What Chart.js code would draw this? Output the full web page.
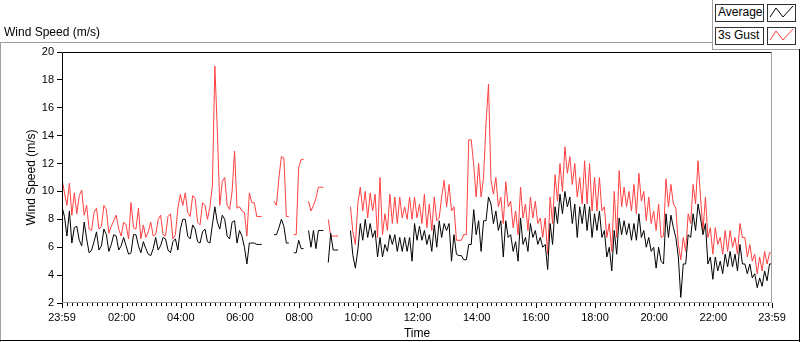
<!DOCTYPE html>
<html>
<head>
<meta charset="utf-8">
<script src="https://cdn.jsdelivr.net/npm/chart.js@4.4.0/dist/chart.umd.min.js"></script>
<style>
  html, body { margin: 0; padding: 0; background: #fff; }
  body { width: 800px; height: 342px; position: relative; overflow: hidden;
         font-family: "Liberation Sans", Arial, sans-serif; font-size: 12px; color: #000; }
  #wrap { position: absolute; left: 0; top: 0; width: 800px; height: 342px; }
  .abs { position: absolute; }
  #title { left: 4px; top: 25px; white-space: nowrap; }
  .line { position: absolute; }
  .lbox { position: absolute; box-sizing: border-box; border: 1px solid #303030; background: #fff;
          height: 18px; line-height: 15px; padding-left: 2px; white-space: nowrap; }
  .sbox { position: absolute; box-sizing: border-box; border: 1px solid #303030; background: #fff;
          width: 29px; height: 18px; }
  .sbox svg { position: absolute; left: 0; top: 0; }
</style>
</head>
<body>
<div id="wrap"><canvas id="myChart" width="800" height="342"></canvas></div>

<div id="title" class="abs">Wind Speed (m/s)</div>
<!-- panel frame -->
<div class="line" style="left:0;top:42px;width:712px;height:1px;background:#a0a0a0"></div>
<div class="line" style="left:0;top:42px;width:1px;height:300px;background:#a0a0a0"></div>
<div class="line" style="left:712px;top:0;width:1px;height:50px;background:#a0a0a0"></div>
<div class="line" style="left:712px;top:49px;width:88px;height:1px;background:#a0a0a0"></div>
<div class="line" style="left:799px;top:49px;width:1px;height:293px;background:#000"></div>
<div class="line" style="left:0;top:340px;width:800px;height:1px;background:#000"></div>
<div id="legend"></div>

<script>
// time axis is in minutes after 23:59 of the previous day, one value every 5 min
const stepMinutes = 5;
const tickMinutes = [0, 121, 241, 361, 481, 601, 721, 841, 961, 1081, 1201, 1321, 1440];
const tickLabels = ['23:59', '02:00', '04:00', '06:00', '08:00', '10:00', '12:00',
                    '14:00', '16:00', '18:00', '20:00', '22:00', '23:59'];
const seriesNames = ['Average', '3s Gust'];
const seriesColors = ['#000000', '#ff4040'];

// 3s gust (m/s), 12 values per hour
const gust = [
  10.9, 9.9, 9.0, 10.6, 8.3, 9.9, 8.4, 9.7, 10.1, 8.3, 9.0, 7.3,
  7.2, 8.5, 8.8, 7.3, 7.5, 9.0, 8.7, 7.0, 7.5, 7.9, 8.3, 7.3,
  6.8, 7.8, 7.6, 6.6, 9.2, 7.4, 7.3, 8.8, 6.6, 7.6, 6.7, 7.1,
  7.8, 6.8, 6.9, 8.0, 8.3, 6.9, 6.8, 8.2, 8.4, 6.6, 6.9, 8.8,
  9.8, 9.0, 9.9, 8.5, 8.2, 9.7, 9.5, 7.8, 7.6, 9.2, 9.0, 8.0,
  8.9, 10.4, 19.0, 14.4, 9.0, 10.7, 11.0, 9.0, 8.7, 10.0, 12.9, 8.8,
  8.9, 8.6, 8.5, 6.8, 9.9, 9.2, 9.2, 8.2, 8.2, 8.2, null, null,
  null, null, 9.3, 9.0, 11.0, 12.5, 12.4, 8.2, 8.2, null, 6.9, 6.9,
  11.7, 12.3, 12.3, null, 9.3, 8.6, 9.0, 9.5, 10.3, 10.3, 10.3, null,
  8.0, 6.8, 6.8, 6.8, 6.8, null, null, null, null, 8.9, 7.1, 6.2,
  9.1, 10.3, 8.6, 10.0, 8.1, 9.9, 8.6, 9.8, 6.7, 11.0, 6.9, 8.4,
  7.2, 9.8, 7.7, 9.6, 7.7, 9.6, 8.1, 8.9, 8.0, 9.6, 8.0, 9.6,
  8.1, 9.1, 7.7, 9.8, 7.4, 9.1, 7.2, 9.6, 7.9, 8.1, 9.6, 10.8,
  8.9, 10.5, 8.6, 8.9, 6.5, 6.5, 6.5, 6.9, 6.9, 13.7, 13.7, 11.9,
  9.6, 12.0, 9.6, 11.0, 14.9, 17.7, 10.8, 9.8, 11.0, 8.9, 9.6, 7.7,
  10.7, 8.9, 9.3, 7.4, 8.6, 6.9, 10.3, 8.1, 9.1, 7.2, 9.6, 8.1,
  9.3, 7.7, 8.1, 6.7, 8.1, 5.5, 9.6, 7.7, 11.2, 9.3, 12.0, 10.0,
  13.2, 11.3, 12.5, 10.5, 12.0, 9.6, 11.0, 9.1, 12.2, 9.1, 12.0, 8.6,
  11.0, 8.6, 11.0, 8.6, 8.9, 6.7, 7.7, 5.7, 10.0, 6.7, 11.5, 8.9,
  10.3, 8.9, 10.0, 8.6, 10.5, 8.4, 11.3, 9.3, 10.0, 7.9, 9.6, 7.7,
  8.6, 7.2, 9.1, 6.7, 6.8, 10.9, 8.9, 10.5, 9.1, 8.8, 6.2, 5.1,
  6.7, 5.7, 8.4, 7.7, 10.5, 9.1, 12.2, 9.6, 7.2, 9.6, 6.7, 7.4,
  5.5, 7.4, 6.2, 6.7, 5.5, 7.2, 5.7, 7.2, 6.0, 6.7, 5.5, 7.7,
  6.7, 6.7, 5.3, 6.2, 5.0, 5.5, 4.1, 5.3, 4.3, 5.7, 4.8, 5.6,
  5.6
];

// average wind speed (m/s)
const average = [
  8.9, 8.2, 6.8, 8.6, 6.3, 7.4, 7.5, 6.5, 6.1, 7.8, 6.6, 5.6,
  5.8, 6.4, 7.1, 5.8, 6.1, 7.3, 6.9, 5.7, 6.2, 6.9, 6.8, 5.8,
  6.1, 6.7, 6.1, 5.5, 5.6, 6.9, 6.9, 6.1, 5.6, 6.4, 5.9, 5.5,
  5.4, 5.9, 6.7, 5.8, 6.1, 6.7, 6.6, 5.8, 5.6, 6.4, 6.6, 5.8,
  7.3, 8.0, 8.0, 6.8, 6.6, 7.6, 7.3, 6.4, 6.3, 7.1, 7.3, 6.4,
  6.3, 7.6, 8.9, 7.8, 7.3, 8.3, 8.0, 6.8, 6.6, 7.8, 7.9, 6.3,
  7.2, 6.8, 6.0, 4.8, 6.3, 6.3, 6.3, 6.2, 6.2, 6.2, null, null,
  null, null, 6.9, 6.9, 7.4, 8.0, 7.5, 6.3, 6.3, null, 5.6, 5.6,
  6.5, 5.9, 5.9, null, 7.2, 6.0, 7.2, 5.9, 7.2, 7.2, 7.2, null,
  4.9, 7.0, 5.8, 5.8, 5.8, null, null, null, null, 7.2, 5.4, 4.5,
  5.8, 7.7, 6.5, 8.0, 6.7, 7.7, 6.7, 7.2, 5.3, 6.7, 5.3, 6.2,
  5.7, 6.9, 6.2, 6.9, 5.7, 6.7, 5.7, 6.7, 5.7, 6.7, 5.0, 7.7,
  6.5, 7.5, 6.5, 7.2, 6.2, 6.9, 5.7, 7.6, 6.0, 7.9, 6.7, 7.7,
  7.2, 7.7, 5.0, 6.9, 5.5, 5.4, 5.4, 5.1, 5.1, 6.2, 6.2, 8.7,
  6.9, 7.9, 5.7, 7.9, 7.9, 9.6, 9.1, 7.7, 8.6, 7.2, 7.9, 5.3,
  7.9, 6.7, 6.9, 5.7, 6.4, 5.0, 8.1, 6.2, 6.7, 5.7, 7.7, 6.7,
  7.2, 6.2, 6.7, 6.0, 6.2, 4.4, 7.7, 6.2, 8.9, 7.7, 9.8, 8.4,
  10.0, 8.9, 9.6, 7.7, 9.1, 6.7, 8.9, 7.7, 9.1, 7.2, 8.9, 6.7,
  8.4, 7.2, 8.6, 6.7, 7.2, 5.3, 6.0, 4.3, 7.2, 5.5, 8.1, 6.9,
  7.9, 6.9, 7.7, 6.5, 7.7, 6.5, 8.4, 6.7, 7.2, 6.0, 6.7, 5.7,
  6.0, 4.5, 6.0, 5.0, 4.8, 8.4, 6.7, 8.3, 7.4, 6.7, 5.3, 2.4,
  4.8, 4.8, 6.9, 6.7, 8.4, 7.2, 9.1, 8.1, 6.9, 7.7, 4.8, 5.3,
  3.7, 5.3, 4.3, 5.0, 4.1, 5.5, 4.6, 5.7, 4.6, 5.5, 4.3, 6.2,
  4.8, 4.8, 4.1, 4.8, 3.8, 4.1, 3.1, 3.8, 3.2, 4.3, 3.6, 4.8,
  4.8
];

function toPoints(arr) {
  return arr.map((v, i) => ({ x: i * stepMinutes, y: v }));
}

const labelFont = { family: 'Liberation Sans', size: 11 };
const titleFont = { family: 'Liberation Sans', size: 12 };

// tick marks on the time axis and the plot frame
const framePlugin = {
  id: 'framePlugin',
  afterDraw(chart) {
    const { ctx, chartArea: a, scales: { x } } = chart;
    ctx.save();
    ctx.lineWidth = 1;
    ctx.strokeStyle = '#000';
    ctx.beginPath();
    for (let m = 1; m < 1440; m += 10) {
      const px = Math.round(x.getPixelForValue(m)) + 0.5;
      ctx.moveTo(px, a.bottom);
      ctx.lineTo(px, a.bottom + 3);
    }
    tickMinutes.forEach((m) => {
      const px = Math.round(x.getPixelForValue(m)) + 0.5;
      ctx.moveTo(px, a.bottom);
      ctx.lineTo(px, a.bottom + 5);
    });
    ctx.stroke();

    const l = Math.round(a.left) + 0.5, r = Math.round(a.right) - 0.5;
    const t = Math.round(a.top) + 0.5, b = Math.round(a.bottom) - 0.5;
    ctx.beginPath();
    ctx.strokeStyle = '#000';
    ctx.moveTo(l, b); ctx.lineTo(l, t); ctx.lineTo(r, t);
    ctx.stroke();
    ctx.beginPath();
    ctx.strokeStyle = '#a0a0a0';
    ctx.moveTo(r, t); ctx.lineTo(r, b); ctx.lineTo(l, b);
    ctx.stroke();
    ctx.restore();
  }
};

var ctx = document.getElementById('myChart').getContext('2d');
var chart = new Chart(ctx, {
  type: 'line',
  data: {
    datasets: [{
      label: seriesNames[0],
      data: toPoints(average),
      borderColor: seriesColors[0],
      backgroundColor: seriesColors[0],
      borderWidth: 1,
      pointRadius: 0,
      tension: 0,
      fill: false,
      spanGaps: false
    }, {
      label: seriesNames[1],
      data: toPoints(gust),
      borderColor: seriesColors[1],
      backgroundColor: seriesColors[1],
      borderWidth: 1,
      pointRadius: 0,
      tension: 0,
      fill: false,
      spanGaps: false
    }]
  },
  options: {
    responsive: false,
    animation: false,
    devicePixelRatio: 1,
    layout: { padding: { left: 0, top: 52, right: 28, bottom: 0 } },
    plugins: { legend: { display: false }, tooltip: { enabled: false } },
    scales: {
      x: {
        type: 'linear',
        min: 0,
        max: 1440,
        border: { display: false },
        grid: { display: false, drawTicks: false },
        afterBuildTicks: (scale) => {
          scale.ticks = tickMinutes.map((v) => ({ value: v }));
        },
        afterFit: (scale) => {
          scale.height = 39;
          scale.paddingLeft = 0;
          scale.paddingRight = 0;
        },
        ticks: {
          autoSkip: false,
          maxRotation: 0,
          padding: 8,
          color: '#000',
          font: labelFont,
          callback: (value, index) => tickLabels[index]
        },
        title: {
          display: true,
          text: 'Time',
          color: '#000',
          font: titleFont,
          padding: { top: 0, bottom: 1 }
        }
      },
      y: {
        min: 2,
        max: 20,
        border: { display: false },
        grid: { drawOnChartArea: false, drawTicks: true, tickLength: 5, tickColor: '#000' },
        afterFit: (scale) => {
          scale.width = 62;
          scale.paddingTop = 0;
          scale.paddingBottom = 0;
        },
        ticks: {
          stepSize: 2,
          padding: 3,
          color: '#000',
          font: labelFont
        },
        title: {
          display: true,
          text: 'Wind Speed (m/s)',
          color: '#000',
          font: titleFont,
          padding: { top: 24, bottom: 0 }
        }
      }
    }
  },
  plugins: [framePlugin]
});

// legend boxes in the top right corner
const legend = document.getElementById('legend');
seriesNames.forEach((name, i) => {
  const top = 4 + i * 23;
  const box = document.createElement('div');
  box.className = 'lbox';
  box.style.left = '715px';
  box.style.top = top + 'px';
  box.style.width = '49px';
  box.textContent = name;
  legend.appendChild(box);
  const sw = document.createElement('div');
  sw.className = 'sbox';
  sw.style.left = '767px';
  sw.style.top = top + 'px';
  sw.innerHTML = '<svg width="27" height="16"><polyline points="2,12 8,3 15,12 25,1" fill="none" stroke="' +
    seriesColors[i] + '" stroke-width="1"/></svg>';
  legend.appendChild(sw);
});
</script>
</body>
</html>
